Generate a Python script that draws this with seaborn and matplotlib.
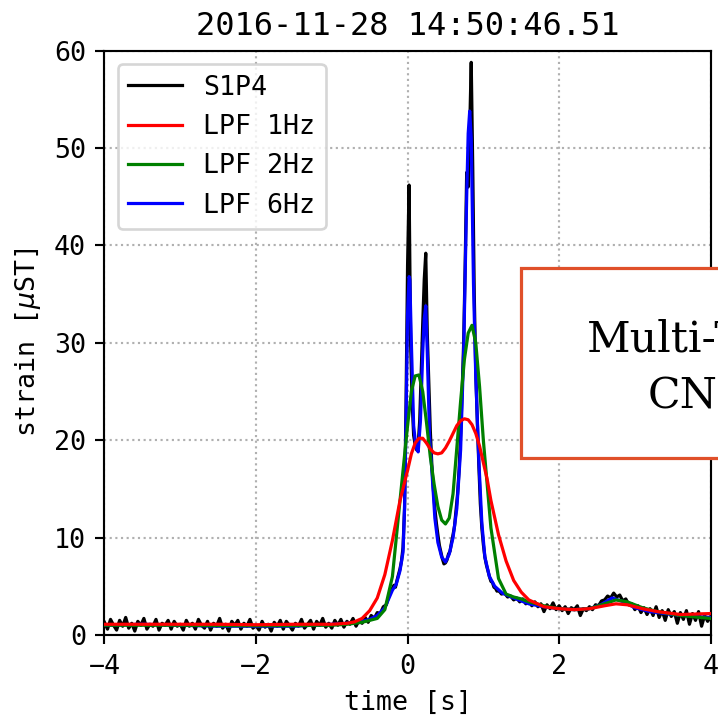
import numpy as np
import matplotlib
matplotlib.use("Agg")
import matplotlib.pyplot as plt
import seaborn as sns
from matplotlib.patches import Rectangle

# ---------------- data ----------------
title = "2016-11-28 14:50:46.51"
labels = ["S1P4", "LPF 1Hz", "LPF 2Hz", "LPF 6Hz"]
x_ticks = [-4, -2, 0, 2, 4]
y_ticks = [0, 10, 20, 30, 40, 50, 60]

# raw sensor time grid (s)
t_raw = np.round(np.concatenate([
    np.arange(-4.0, -0.21, 0.04),
    np.arange(-0.20, 1.19, 0.02),
    np.arange(1.20, 4.001, 0.04),
]), 2)

s1p4 = [
    # -4.00 .. -3.04
    1.3, 0.6, 1.6, 1.0, 0.5, 1.5, 0.9, 1.8, 0.7, 1.2, 0.4, 1.4, 1.0, 1.7, 0.6, 1.1, 0.9, 1.6, 0.5, 1.2, 1.0, 1.5, 0.6, 1.4, 0.9,
    # -3.00 .. -2.04
    1.1, 0.5, 1.5, 0.9, 1.2, 0.6, 1.6, 1.0, 0.7, 1.4, 0.5, 1.2, 0.9, 1.7, 0.7, 1.1, 0.4, 1.4, 1.0, 1.5, 0.6, 1.2, 0.9, 1.6, 0.7,
    # -2.00 .. -1.04
    1.0, 0.5, 1.4, 0.8, 1.1, 0.4, 1.3, 0.9, 1.5, 0.6, 1.4, 1.0, 0.5, 1.2, 0.9, 1.6, 0.7, 1.1, 1.5, 0.6, 1.4, 1.0, 1.7, 0.8, 1.2,
    # -1.00 .. -0.24
    0.7, 1.5, 1.0, 1.6, 0.8, 1.4, 1.1, 1.7, 0.9, 1.5, 1.2, 1.8, 1.3, 2.0, 1.7, 2.3, 2.2, 2.9, 3.1, 4.2,
    # -0.20 .. -0.02
    4.8, 5.1, 4.9, 5.6, 6.2, 6.8, 7.6, 9.0, 13.0, 24.0,
    # 0.00 .. 0.98
    38.0, 46.2, 30.0, 24.0, 20.5, 19.5, 19.0, 19.6, 22.0, 27.0,
    32.0, 36.5, 39.2, 31.0, 26.0, 21.0, 17.5, 15.0, 13.0, 11.5,
    10.3, 9.2, 8.5, 7.8, 7.3, 7.4, 7.7, 8.3, 8.6, 9.5,
    10.3, 11.2, 12.8, 14.5, 17.0, 20.5, 25.0, 30.0, 38.0, 47.5,
    46.0, 52.0, 58.8, 48.0, 35.0, 27.0, 22.0, 17.5, 13.5, 11.0,
    # 1.00 .. 1.18
    9.3, 8.0, 7.2, 6.6, 6.0, 5.5, 5.4, 4.9, 4.8, 4.5,
    # 1.20 .. 1.96
    4.6, 4.2, 4.3, 3.9, 4.0, 3.6, 3.8, 3.4, 3.7, 3.2, 3.5, 3.0, 3.4, 2.9, 3.2, 2.4, 3.1, 2.7, 3.3, 2.6,
    # 2.00 .. 2.96
    3.0, 2.5, 2.9, 2.2, 2.8, 2.6, 3.0, 2.0, 2.7, 2.5, 2.9, 2.6, 3.1, 3.0, 3.5, 3.6, 4.0, 3.8, 4.3, 3.9, 4.1, 3.5, 3.7, 3.1, 3.2,
    # 3.00 .. 3.96
    2.6, 3.0, 2.3, 2.8, 2.1, 2.7, 2.0, 2.9, 1.8, 2.5, 1.5, 2.6, 1.9, 2.4, 1.2, 2.3, 1.6, 2.5, 1.1, 2.2, 1.5, 2.4, 0.9, 2.0, 1.4,
    # 4.00
    1.9,
]

t_6hz = [-4, -3.5, -3, -2.5, -2, -1.5, -1, -0.8, -0.6, -0.5,
         -0.4, -0.3, -0.2, -0.15, -0.1, -0.06, -0.04, -0.02, 0.0, 0.02,
         0.03, 0.05, 0.08, 0.11, 0.14, 0.17, 0.20, 0.22, 0.24, 0.26,
         0.29, 0.32, 0.36, 0.40, 0.45, 0.50, 0.55, 0.60, 0.65, 0.70,
         0.74, 0.78, 0.80, 0.82, 0.84, 0.87, 0.90, 0.94, 0.98, 1.02,
         1.08, 1.15, 1.25, 1.4, 1.6, 1.8, 2.0, 2.2, 2.4, 2.55,
         2.7, 2.85, 3.0, 3.2, 3.5, 3.8, 4.0]
lpf_6hz = [1.0, 1.1, 1.0, 0.9, 0.9, 0.9, 1.1, 1.2, 1.4, 1.6,
           2.0, 2.8, 4.6, 5.2, 6.6, 8.5, 13.0, 22.0, 33.0, 36.8,
           36.5, 30.0, 21.5, 19.3, 18.8, 22.0, 29.0, 32.5, 33.8, 29.0,
           20.5, 17.0, 12.0, 9.5, 8.0, 7.5, 8.3, 10.0, 13.0, 19.0,
           29.0, 45.0, 51.5, 53.8, 51.0, 36.0, 26.5, 18.0, 11.5, 8.0,
           6.0, 5.0, 4.3, 3.8, 3.2, 2.9, 2.7, 2.6, 2.7, 3.1,
           3.8, 3.4, 2.8, 2.4, 2.1, 1.9, 1.8]

t_lpf = [-4, -3.5, -3, -2.5, -2, -1.5, -1.2, -1.0, -0.8, -0.7,
         -0.6, -0.5, -0.4, -0.3, -0.2, -0.1, 0.0, 0.05, 0.1, 0.15,
         0.2, 0.25, 0.3, 0.35, 0.4, 0.45, 0.5, 0.55, 0.6, 0.65,
         0.7, 0.75, 0.8, 0.85, 0.9, 0.95, 1.0, 1.05, 1.1, 1.2,
         1.3, 1.4, 1.5, 1.6, 1.8, 2.0, 2.2, 2.4, 2.6, 2.75,
         2.9, 3.1, 3.3, 3.6, 4.0]
lpf_2hz = [1.0, 1.0, 1.0, 0.95, 0.95, 0.95, 1.0, 1.0, 1.1, 1.2,
           1.3, 1.5, 1.7, 2.6, 6.0, 13.8, 21.5, 25.0, 26.6, 26.7,
           25.0, 21.8, 18.3, 15.5, 13.2, 11.8, 11.4, 12.0, 14.5, 19.2,
           24.0, 28.3, 31.0, 31.8, 30.0, 25.5, 20.0, 15.5, 11.0, 5.8,
           4.2, 3.9, 3.7, 3.4, 3.0, 2.7, 2.6, 2.7, 3.2, 3.6,
           3.4, 2.8, 2.4, 2.0, 1.7]
lpf_1hz = [1.1, 1.1, 1.1, 1.1, 1.05, 1.1, 1.1, 1.1, 1.2, 1.35,
           1.7, 2.5, 3.8, 6.2, 9.7, 13.8, 16.9, 18.6, 19.7, 20.2,
           20.2, 19.7, 19.1, 18.7, 18.6, 18.7, 19.2, 19.9, 20.7, 21.5,
           22.0, 22.2, 22.1, 21.6, 20.7, 19.4, 17.7, 16.0, 13.8, 10.3,
           7.6, 5.6, 4.4, 3.6, 2.9, 2.7, 2.6, 2.7, 3.0, 3.2,
           3.1, 2.7, 2.4, 2.1, 2.2]

# ---------------- plot ----------------
plt.rcParams["font.family"] = ["DejaVu Sans Mono", "DejaVu Sans"]
plt.rcParams["mathtext.fontset"] = "dejavusans"

dpi = 192
fig = plt.figure(figsize=(718 / dpi, 717 / dpi), dpi=dpi)
ax = fig.add_axes([0.1455, 0.1144, 0.8443, 0.8149])

lw = 1.2
sns.lineplot(x=t_raw, y=s1p4, ax=ax, color="black", lw=lw, label=labels[0], zorder=2)
sns.lineplot(x=t_lpf, y=lpf_1hz, ax=ax, color="red", lw=lw, label=labels[1], zorder=5)
sns.lineplot(x=t_lpf, y=lpf_2hz, ax=ax, color="green", lw=lw, label=labels[2], zorder=4)
sns.lineplot(x=t_6hz, y=lpf_6hz, ax=ax, color="blue", lw=lw, label=labels[3], zorder=3)

ax.set_xlim(-4, 4)
ax.set_ylim(0, 60)
ax.set_xticks(x_ticks)
ax.set_yticks(y_ticks)
ax.tick_params(labelsize=10)
ax.grid(True, ls=":", color="#b0b0b0", lw=0.8)
ax.set_xlabel("time [s]", fontsize=10)
ax.set_ylabel(r"strain [$\mu$ST]", fontsize=10)
ax.set_title(title, fontsize=12)
ax.legend(loc="upper left", fontsize=10)

# overlay box at right (partly cut off by the figure edge, as in the reference)
rect = Rectangle((521 / 718, 1 - 458 / 717), 0.5, (458 - 268) / 717,
                 transform=fig.transFigure, facecolor="white",
                 edgecolor="#e0502a", lw=1.2, zorder=10)
fig.add_artist(rect)
fig.text(587 / 718, 1 - 352 / 717, "Multi-Task", fontsize=16,
         family="DejaVu Serif", ha="left", va="baseline", zorder=11)
fig.text(648 / 718, 1 - 408 / 717, "CNN", fontsize=16,
         family="DejaVu Serif", ha="left", va="baseline", zorder=11)

fig.savefig("out.png", dpi=dpi)
